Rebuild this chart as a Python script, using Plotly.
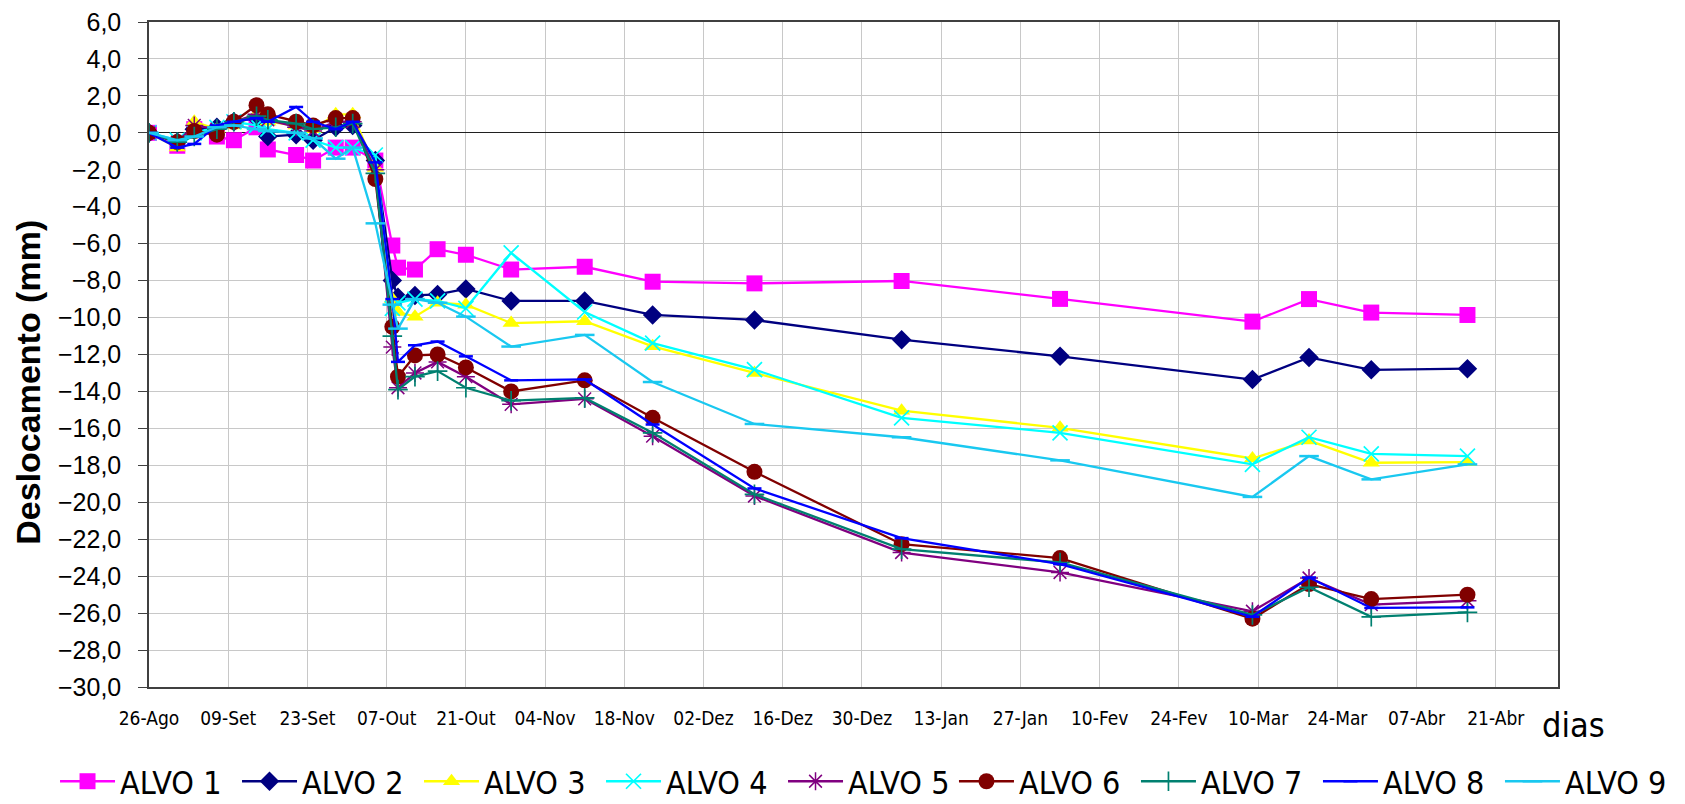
import plotly.graph_objects as go

dates = ["2008-08-26","2008-08-31","2008-09-03","2008-09-07","2008-09-10","2008-09-14",
         "2008-09-16","2008-09-21","2008-09-24","2008-09-28","2008-10-01","2008-10-05",
         "2008-10-08","2008-10-09","2008-10-12","2008-10-16","2008-10-21","2008-10-29",
         "2008-11-11","2008-11-23","2008-12-11","2009-01-06","2009-02-03","2009-03-09",
         "2009-03-19","2009-03-30","2009-04-16"]

alvo1 = [0.0,-0.7,0.2,-0.2,-0.4,0.3,-0.9,-1.2,-1.5,-0.8,-0.8,-1.5,
         -6.1,-7.3,-7.4,-6.3,-6.6,-7.4,-7.25,-8.06,-8.15,-8.02,-8.99,-10.22,-9.0,-9.73,-9.86]
alvo2 = [0.0,-0.5,0.2,0.3,0.6,0.8,-0.2,-0.1,-0.4,0.3,0.4,-1.5,
         -8.0,-8.9,-8.8,-8.75,-8.45,-9.1,-9.1,-9.86,-10.13,-11.2,-12.1,-13.36,-12.16,-12.83,-12.77]
alvo3 = [0.0,-0.8,0.6,0.2,0.4,1.0,0.6,0.4,0.2,1.0,1.0,-1.9,
         -9.0,-9.7,-9.95,-9.2,-9.3,-10.3,-10.2,-11.56,-13.0,-15.04,-15.97,-17.63,-16.66,-17.86,-17.83]
alvo4 = [0.0,-0.4,0.0,0.3,0.6,0.4,0.2,0.0,-0.4,-0.8,-0.8,-1.2,
         -9.5,-9.2,-9.0,-9.1,-9.5,-6.5,-9.7,-11.38,-12.82,-15.43,-16.24,-17.95,-16.48,-17.38,-17.5]
alvo5 = [0.0,-0.5,0.4,0.2,0.6,1.0,0.7,0.3,0.1,0.6,0.6,-2.0,
         -11.6,-13.8,-13.0,-12.4,-13.2,-14.7,-14.4,-16.42,-19.66,-22.72,-23.8,-25.9,-24.1,-25.54,-25.33]
alvo6 = [0.0,-0.5,0.1,-0.1,0.6,1.5,1.0,0.6,0.4,0.8,0.8,-2.5,
         -10.5,-13.2,-12.05,-12.0,-12.7,-14.0,-13.4,-15.43,-18.35,-22.27,-23.02,-26.3,-24.43,-25.24,-25.0]
alvo7 = [0.0,-0.5,-0.2,0.2,0.6,0.9,0.7,0.5,0.2,0.3,0.5,-2.2,
         -11.0,-13.9,-13.2,-12.9,-13.8,-14.5,-14.35,-16.24,-19.57,-22.54,-23.26,-26.1,-24.6,-26.2,-25.96]
alvo8 = [0.0,-0.8,-0.6,0.4,0.6,0.8,0.6,1.4,0.6,0.2,0.6,-1.6,
         -9.0,-12.4,-11.5,-11.3,-12.1,-13.4,-13.35,-15.79,-19.25,-21.94,-23.35,-26.2,-24.07,-25.72,-25.69]
alvo9 = [0.0,-0.4,-0.2,0.3,0.4,0.2,0.1,0.0,-0.3,-1.4,-0.8,-4.9,
         -9.3,-10.6,-9.0,-9.2,-9.95,-11.57,-10.94,-13.49,-15.76,-16.48,-17.73,-19.71,-17.5,-18.76,-17.95]

series_names = ["ALVO 1","ALVO 2","ALVO 3","ALVO 4","ALVO 5","ALVO 6","ALVO 7","ALVO 8","ALVO 9"]
series_values = [alvo1, alvo2, alvo3, alvo4, alvo5, alvo6, alvo7, alvo8, alvo9]

tick_vals = ["2008-08-26","2008-09-09","2008-09-23","2008-10-07","2008-10-21","2008-11-04",
             "2008-11-18","2008-12-02","2008-12-16","2008-12-30","2009-01-13","2009-01-27",
             "2009-02-10","2009-02-24","2009-03-10","2009-03-24","2009-04-07","2009-04-21"]
tick_text = ["26-Ago","09-Set","23-Set","07-Out","21-Out","04-Nov","18-Nov","02-Dez","16-Dez",
             "30-Dez","13-Jan","27-Jan","10-Fev","24-Fev","10-Mar","24-Mar","07-Abr","21-Abr"]

styles = [
    dict(color="#FF00FF", symbol="square", size=16, lw=0),
    dict(color="#000080", symbol="diamond", size=15, lw=0),
    dict(color="#FFFF00", symbol="triangle-up", size=15, lw=0),
    dict(color="#00FFFF", symbol="x-thin-open", size=15, lw=1.7),
    dict(color="#800080", symbol="asterisk-open", size=15, lw=1.5),
    dict(color="#800000", symbol="circle", size=16, lw=0),
    dict(color="#008070", symbol="cross-thin-open", size=14, lw=1.7),
    dict(color="#0000FF", symbol="line-ew-open", size=10, lw=2.5),
    dict(color="#19C8F0", symbol="line-ew-open", size=14, lw=2.5),
]

NARROW = "Liberation Sans Narrow, Arial Narrow, DejaVu Sans Condensed, Liberation Sans, Arial, sans-serif"

fig = go.Figure()
for i, (name, vals, st) in enumerate(zip(series_names, series_values, styles)):
    fig.add_trace(go.Scatter(
        x=dates, y=vals, name=name, mode="lines+markers",
        legend="legend" if i < 5 else "legend2",
        line=dict(color=st["color"], width=2.3),
        marker=dict(symbol=st["symbol"], size=st["size"], color=st["color"],
                    line=dict(color=st["color"], width=st["lw"])),
    ))

legend_common = dict(orientation="h", xanchor="left", y=-0.142, yanchor="middle",
                     font=dict(family=NARROW, size=32, color="black"),
                     itemwidth=55, entrywidth=112, tracegroupgap=0,
                     bgcolor="rgba(0,0,0,0)")

fig.update_layout(
    width=1685, height=804,
    margin=dict(l=141, r=135, t=14, b=125, autoexpand=False),
    paper_bgcolor="white", plot_bgcolor="white",
    separators=",.",
    showlegend=True,
    legend=dict(x=-0.0667, **legend_common),
    legend2=dict(x=0.5713, **legend_common),
    xaxis=dict(type="date", range=["2008-08-26", "2009-05-02"],
               tickvals=tick_vals, ticktext=tick_text,
               tickfont=dict(family=NARROW, size=19, color="black"),
               showgrid=True, gridcolor="#C8C8C8", gridwidth=1.3,
               showline=True, linecolor="#404040", linewidth=1.5, mirror=True,
               ticks="", ticklabelstandoff=13, zeroline=False,
               ticklabeloverflow="allow"),
    yaxis=dict(range=[-30, 6], dtick=2, tick0=0, tickformat=".1f",
               tickfont=dict(family="Liberation Sans, Arial, sans-serif", size=25, color="black"),
               showgrid=True, gridcolor="#C8C8C8", gridwidth=1.3,
               showline=True, linecolor="#404040", linewidth=1.5, mirror=True,
               ticks="outside", ticklen=9, tickcolor="#404040", ticklabelstandoff=12,
               ticklabeloverflow="allow",
               zeroline=True, zerolinecolor="#202020", zerolinewidth=1.3),
    annotations=[
        dict(text="<b>Deslocamento (mm)</b>", xref="paper", yref="paper",
             x=-0.0859, y=0.459, xanchor="center", yanchor="middle", textangle=-90,
             showarrow=False, font=dict(family="Liberation Sans, Arial, sans-serif", size=34, color="black")),
        dict(text="dias", xref="paper", yref="paper", x=1.0113, y=-0.057,
             xanchor="center", yanchor="middle", showarrow=False,
             font=dict(family=NARROW, size=34, color="black")),
    ],
)

fig.write_html("out.html")
